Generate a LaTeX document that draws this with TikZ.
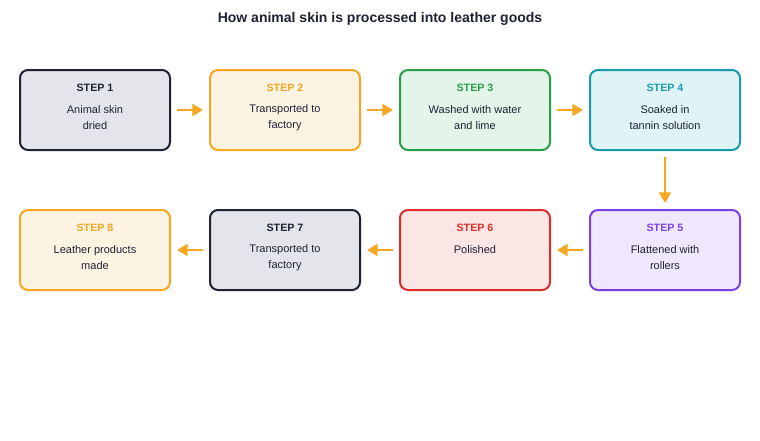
\documentclass[tikz,border=0pt]{standalone}
\usepackage{fontspec}
\setmainfont{Liberation Sans}
\usetikzlibrary{arrows.meta}
\definecolor{dk}{HTML}{1E2235}\definecolor{dkf}{HTML}{E4E5EA}
\definecolor{or}{HTML}{F5A623}\definecolor{orf}{HTML}{FDF3E3}
\definecolor{gr}{HTML}{27A048}\definecolor{grf}{HTML}{E3F5E9}
\definecolor{te}{HTML}{1A9BB0}\definecolor{tef}{HTML}{E0F3F6}
\definecolor{pu}{HTML}{7B3FE4}\definecolor{puf}{HTML}{EFE8FD}
\definecolor{re}{HTML}{DD2C2C}\definecolor{ref}{HTML}{FCE5E5}
\tikzset{
 box/.style={draw=#1,fill=#1f,line width=1.5pt,rounded corners=6pt,minimum width=112.5pt,minimum height=60pt,inner sep=0pt},
 lab/.style={font=\bfseries\fontsize{8}{10}\selectfont,text=#1},
 txt/.style={font=\fontsize{8.25}{12}\selectfont,align=center,text=dk},
 arr/.style={draw=or,line width=1.5pt,-{Triangle[length=8pt,width=9pt]}}
}
\begin{document}
\begin{tikzpicture}[x=0.75pt,y=-0.75pt]
\useasboundingbox[fill=white] (0,0) rectangle (760,440);
\node[font=\bfseries\fontsize{10.5}{12}\selectfont,text=dk] (title) at (380,19) {How animal skin is processed into leather goods};
\def\stp#1#2#3#4#5#6{%
 \node[box=#4] (b#1) at (#2,#3) {};
 \node[lab=#4] (l#1) at (#2,#3-22) {STEP #1};
 \node[txt] (t#1) at (#2,#3+8) {#5\\#6};}
\stp{1}{95}{110}{dk}{Animal skin}{dried}
\stp{2}{285}{110}{or}{Transported to}{factory}
\stp{3}{475}{110}{gr}{Washed with water}{and lime}
\stp{4}{665}{110}{te}{Soaked in}{tannin solution}
\stp{5}{665}{250}{pu}{Flattened with}{rollers}
\node[box=re] (b6) at (475,250) {};
\node[lab=re] (l6) at (475,228) {STEP 6};
\node[txt] (t6) at (475,250) {Polished};
\stp{7}{285}{250}{dk}{Transported to}{factory}
\stp{8}{95}{250}{or}{Leather products}{made}
\draw[arr] ([xshift=4.5pt]b1.east) -- ([xshift=-4.5pt]b2.west);
\draw[arr] ([xshift=4.5pt]b2.east) -- ([xshift=-4.5pt]b3.west);
\draw[arr] ([xshift=4.5pt]b3.east) -- ([xshift=-4.5pt]b4.west);
\draw[arr] ([yshift=-4.5pt]b4.south) -- ([yshift=4.5pt]b5.north);
\draw[arr] ([xshift=-4.5pt]b5.west) -- ([xshift=4.5pt]b6.east);
\draw[arr] ([xshift=-4.5pt]b6.west) -- ([xshift=4.5pt]b7.east);
\draw[arr] ([xshift=-4.5pt]b7.west) -- ([xshift=4.5pt]b8.east);
\end{tikzpicture}
\end{document}
